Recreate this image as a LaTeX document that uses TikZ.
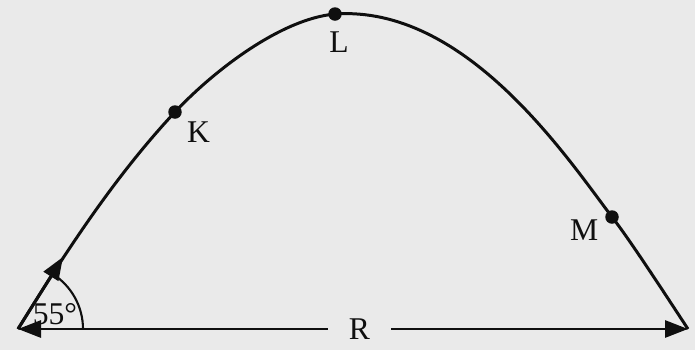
\documentclass[tikz,border=0pt]{standalone}
\usepackage{fontspec}
\setmainfont{Liberation Serif}
\definecolor{ink}{RGB}{15, 15, 15}
\definecolor{paper}{RGB}{234, 234, 234}
\usetikzlibrary{arrows.meta, positioning, calc}
\tikzset{
	traj/.style={draw=ink, line width=1.7pt},
	arrow/.style={-{Triangle[length=4.6mm, width=3.4mm]}, line width=1.7pt, draw=ink},
	anglearc/.style={draw=ink, line width=1.2pt},
	dot/.style={circle, fill=ink, inner sep=0pt, minimum size=2.7mm},
	lbl/.style={font=\fontsize{18}{20}\selectfont, text=ink, inner sep=1pt},
}

\begin{document}
\begin{tikzpicture}
		\fill[paper] (0,0) rectangle (13.9,7);
		\useasboundingbox (0,0) rectangle (13.9,7);
		\coordinate (O) at (0.36,0.42);
		\coordinate (E) at (13.76,0.42);
		\coordinate (V) at ($(O)+(58:1.7)$);
		\node[dot] (K) at (3.5,4.76) {};
		\node[dot] (L) at (6.7,6.72) {};
		\node[dot] (M) at (12.24,2.66) {};
		\draw[traj] (O) .. controls (1.31,1.95) and (2.27,3.44) .. (K.center)
			.. controls (4.25,5.56) and (5.6,6.62) .. (L.center)
			.. controls (9.3,6.9) and (11.32,3.88) .. (M.center)
			.. controls (12.61,2.19) and (13.43,0.92) .. (E);
		\draw[arrow] (O) -- (V);
		\draw[anglearc] ($(O)+(1.3,0)$) arc[start angle=0, end angle=58, radius=1.3];
		\node[lbl] (ang) at ($(O)+(0.74,0.3)$) {55°};
		\node[lbl, inner xsep=0.42cm] (R) at (7.19,0.42) {R};
		\draw[arrow] (R) -- (O);
		\draw[arrow] (R) -- (E);
		\node[lbl, below right=0.06cm and 0.1cm of K] (Klbl) {K};
		\node[lbl, below=0.18cm of L, xshift=0.08cm] (Llbl) {L};
		\node[lbl, left=0.09cm of M, yshift=-0.26cm] (Mlbl) {M};
	\end{tikzpicture}
\end{document}
